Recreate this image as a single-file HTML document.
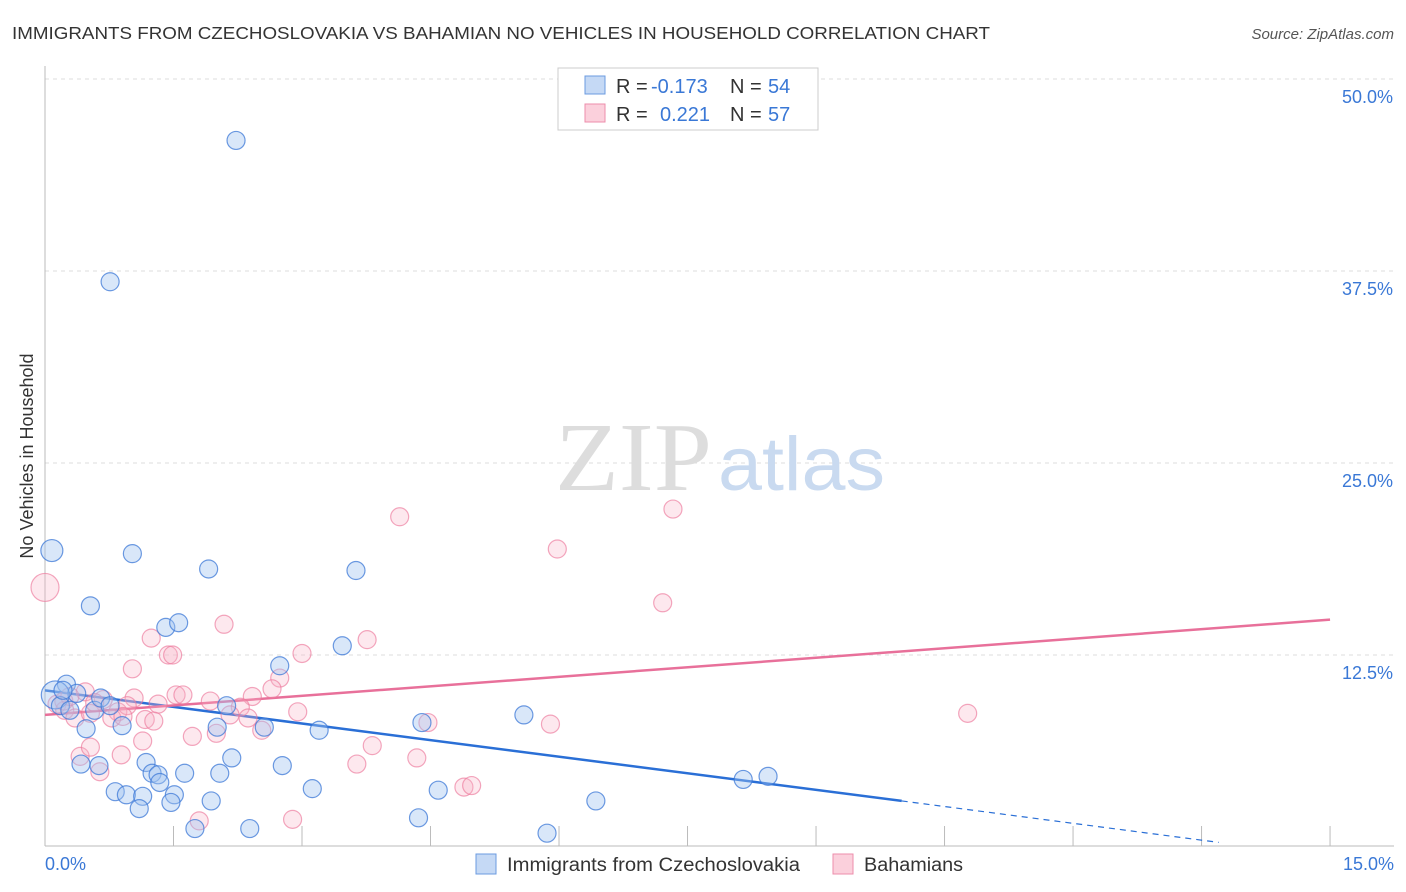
<!DOCTYPE html>
<html><head><meta charset="utf-8"><style>
body{margin:0;background:#fff;font-family:"Liberation Sans",sans-serif}
#wrap{position:relative;width:1406px;height:892px;overflow:hidden}
</style></head><body>
<div id="wrap">
<svg id="svg" width="1406" height="892" xmlns="http://www.w3.org/2000/svg">
<text x="12" y="39" font-size="17.5" fill="#333" textLength="978" lengthAdjust="spacingAndGlyphs">IMMIGRANTS FROM CZECHOSLOVAKIA VS BAHAMIAN NO VEHICLES IN HOUSEHOLD CORRELATION CHART</text>
<text x="1394" y="39" font-size="15" fill="#555" text-anchor="end" font-style="italic">Source: ZipAtlas.com</text>
<text x="33" y="456" font-size="18" fill="#333" text-anchor="middle" transform="rotate(-90 33 456)">No Vehicles in Household</text>
<g id="grid"></g>
<text x="555" y="490" font-size="98" font-family="Liberation Serif" fill="#ddd" textLength="157" lengthAdjust="spacingAndGlyphs">ZIP</text>
<text x="718" y="490" font-size="76" fill="#c9daf0" textLength="167" lengthAdjust="spacingAndGlyphs">atlas</text>
<g id="lines"></g>
<g id="pts"></g>
<g>
<rect x="558" y="68" width="260" height="62" fill="#fff" stroke="#ccc"/>
<rect x="585" y="76" width="20" height="18" fill="#c5d9f5" stroke="#6b9be0"/>
<rect x="585" y="104" width="20" height="18" fill="#fbd0dc" stroke="#ec8eab"/>
<text x="616" y="93" font-size="20" fill="#333">R = <tspan fill="#3a78d6" x="651">-0.173</tspan></text>
<text x="730" y="93" font-size="20" fill="#333">N = <tspan fill="#3a78d6" x="768">54</tspan></text>
<text x="616" y="121" font-size="20" fill="#333">R = <tspan fill="#3a78d6" x="660">0.221</tspan></text>
<text x="730" y="121" font-size="20" fill="#333">N = <tspan fill="#3a78d6" x="768">57</tspan></text>
</g>
<g>
<rect x="476" y="854" width="20" height="20" fill="#c5d9f5" stroke="#6b9be0"/>
<text x="507" y="871" font-size="19" fill="#333" textLength="293" lengthAdjust="spacingAndGlyphs">Immigrants from Czechoslovakia</text>
<rect x="833" y="854" width="20" height="20" fill="#fbd0dc" stroke="#ec8eab"/>
<text x="864" y="871" font-size="19" fill="#333" textLength="99" lengthAdjust="spacingAndGlyphs">Bahamians</text>
</g>
</svg>
</div>
<script>
const yTicks=[12.5,25,37.5,50];
const yTickLabels=["12.5%","25.0%","37.5%","50.0%"];
const xTickVals=[0,1.5,3,4.5,6,7.5,9,10.5,12,13.5,15];
const blueX=[0.08,0.76,2.23,0.53,1.02,1.91,3.63,1.41,1.56,3.47,2.74,0.25,0.37,0.12,0.18,0.29,0.58,0.9,0.48,2.12,2.01,2.56,3.2,4.4,5.59,2.18,1.18,0.42,0.63,1.25,1.32,1.63,2.04,2.77,0.82,0.95,1.51,1.14,1.34,3.12,4.59,1.94,1.47,1.1,6.43,8.15,8.44,4.36,2.39,1.75,5.86,0.21,0.65,0.76];
const blueY=[19.3,36.8,46.0,15.7,19.1,18.1,18.0,14.3,14.6,13.1,11.8,10.6,10.0,9.9,9.2,8.9,8.9,7.9,7.7,9.2,7.8,7.8,7.6,8.1,8.6,5.8,5.5,5.4,5.3,4.8,4.7,4.8,4.8,5.3,3.6,3.4,3.4,3.3,4.2,3.8,3.7,3.0,2.9,2.5,3.0,4.4,4.6,1.9,1.2,1.2,0.9,10.2,9.7,9.2];
const blueR=[11,9,9,9,9,9,9,9,9,9,9,9,9,14,9,9,9,9,9,9,9,9,9,9,9,9,9,9,9,9,9,9,9,9,9,9,9,9,9,9,9,9,9,9,9,9,9,9,9,9,9,9,9,9];
const pinkX=[0,4.14,7.33,5.98,7.21,2.09,1.24,3.76,1.44,1.49,3.0,1.02,2.74,2.65,0.47,0.68,1.04,1.53,1.61,1.93,2.42,0.14,0.23,0.35,0.53,0.85,0.96,1.32,2.28,0.78,0.91,1.17,1.27,2.16,2.37,2.95,1.72,2.0,1.14,2.53,4.47,5.9,10.77,0.41,0.53,0.89,3.82,4.34,3.64,0.64,4.89,4.98,1.8,2.89,0.22,0.29,0.58];
const pinkY=[16.9,21.5,22.0,19.4,15.9,14.5,13.6,13.5,12.5,12.5,12.6,11.6,11.0,10.3,10.1,9.6,9.7,9.9,9.9,9.5,9.8,9.3,8.9,8.4,8.7,8.8,9.2,9.3,9.1,8.4,8.5,8.3,8.2,8.6,8.4,8.8,7.2,7.4,6.9,7.6,8.1,8.0,8.7,5.9,6.5,6.0,6.6,5.8,5.4,4.9,3.9,4.0,1.7,1.8,9.5,9.8,9.4];
const pinkR=[14,9,9,9,9,9,9,9,9,9,9,9,9,9,9,9,9,9,9,9,9,9,9,9,9,9,9,9,9,9,9,9,9,9,9,9,9,9,9,9,9,9,9,9,9,9,9,9,9,9,9,9,9,9,9,9,9];
const blueTrend=[[0,10.2],[10,3.0],[13.7,0.3]];
const pinkTrend=[[0,8.6],[15,14.8]];
const NS="http://www.w3.org/2000/svg";
const X=v=>45+v*85.67, Y=v=>847-v*15.36;
function mk(t,a,p){const e=document.createElementNS(NS,t);for(const k in a)e.setAttribute(k,a[k]);p.appendChild(e);return e;}
const grid=document.getElementById('grid');
yTicks.forEach((t,i)=>{
 const l=mk('line',{x1:45,x2:1394,y1:Y(t),y2:Y(t),stroke:'#ddd','stroke-dasharray':'4,4'},grid);
 
 
 const tx=mk('text',{x:1393,y:Y(t)+24,'font-size':18,fill:'#3a78d6','text-anchor':'end'},grid);tx.textContent=yTickLabels[i];
 
 
});
mk('line',{x1:45,x2:45,y1:66,y2:846,stroke:'#bbb'},grid);
mk('line',{x1:45,x2:1394,y1:846,y2:846,stroke:'#bbb'},grid);
xTickVals.forEach(v=>{if(v>0){const l=mk('line',{x1:X(v),x2:X(v),y1:826,y2:846,stroke:'#bbb'},grid);
 
 }});
let t1=mk('text',{x:45,y:870,'font-size':18,fill:'#3a78d6'},grid);t1.textContent='0.0%';


let t2=mk('text',{x:1394,y:870,'font-size':18,fill:'#3a78d6','text-anchor':'end'},grid);t2.textContent='15.0%';


const pts=document.getElementById('pts');
function dots(xs,ys,rs,fill,stroke,name){xs.forEach((x,i)=>{const c=mk('circle',{cx:X(x),cy:Y(ys[i]),r:rs[i],fill:fill,stroke:stroke,'stroke-width':1.2},pts);
 
 });}
dots(pinkX,pinkY,pinkR,'rgba(248,180,200,0.3)','rgba(236,120,155,0.65)','bahamian-point');
dots(blueX,blueY,blueR,'rgba(160,195,240,0.4)','rgba(60,120,215,0.75)','czech-point');
const lines=document.getElementById('lines');
const bl=mk('line',{x1:X(blueTrend[0][0]),y1:Y(blueTrend[0][1]),x2:X(blueTrend[1][0]),y2:Y(blueTrend[1][1]),stroke:'#2a6fd6','stroke-width':2.5},lines);


const bd=mk('line',{x1:X(blueTrend[1][0]),y1:Y(blueTrend[1][1]),x2:X(blueTrend[2][0]),y2:Y(blueTrend[2][1]),stroke:'#2a6fd6','stroke-width':1.2,'stroke-dasharray':'6,5'},lines);


const pl=mk('line',{x1:X(pinkTrend[0][0]),y1:Y(pinkTrend[0][1]),x2:X(pinkTrend[1][0]),y2:Y(pinkTrend[1][1]),stroke:'#e8709a','stroke-width':2.5},lines);


</script>
</body></html>
